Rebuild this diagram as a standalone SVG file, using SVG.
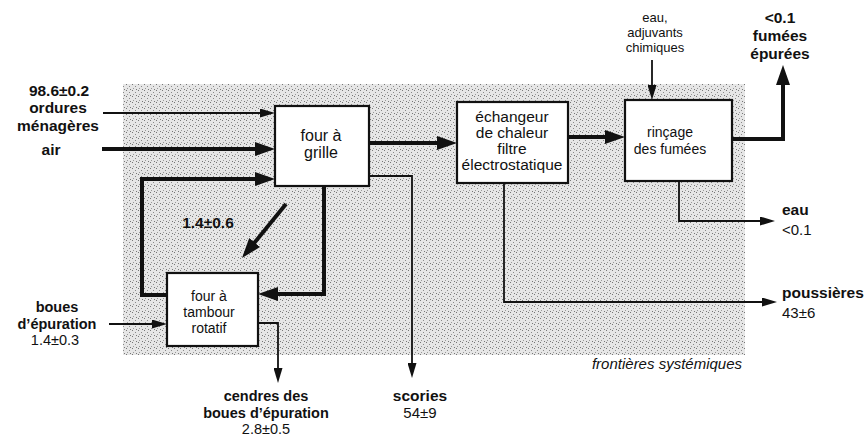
<svg xmlns="http://www.w3.org/2000/svg" width="865" height="437" viewBox="0 0 865 437">
<style>
text{font-family:"Liberation Sans",Arial,sans-serif;fill:#111}
.lb{font-size:15.5px;font-weight:bold}
.nm{font-size:15px}
.bx{font-size:15.5px;text-anchor:middle}
.sm{font-size:13px;text-anchor:middle}
.c{text-anchor:middle}
.tight{font-size:14.5px}
.box{fill:#fff;stroke:#111;stroke-width:2.2}
.thick{fill:none;stroke:#111;stroke-width:4}
.thin{fill:none;stroke:#111;stroke-width:1.8}
</style>
<defs>
<pattern id="stip" width="6" height="6" patternUnits="userSpaceOnUse">
<rect width="6" height="6" fill="#e6e6e6"/>
<rect x="0" y="0" width="1" height="1" fill="#777"/>
<rect x="3" y="2" width="1" height="1" fill="#888"/>
<rect x="1" y="4" width="1" height="1" fill="#999"/>
<rect x="4" y="5" width="1" height="1" fill="#777"/>
</pattern>
<marker id="ak" markerUnits="userSpaceOnUse" markerWidth="22" markerHeight="14" refX="1" refY="7" orient="auto">
<path d="M0,0 L20,7 L0,14 z" fill="#111"/>
</marker>
<marker id="an" markerUnits="userSpaceOnUse" markerWidth="16" markerHeight="9" refX="1" refY="4.5" orient="auto">
<path d="M0,0 L15,4.5 L0,9 z" fill="#111"/>
</marker>
</defs>

<rect id="boundary" x="123" y="84" width="622" height="271" fill="url(#stip)"/>
<text x="742" y="369" style="font-size:15px;font-style:italic;text-anchor:end">frontières systémiques</text>

<g id="connectors">
<path class="thin" d="M103,113 H261" marker-end="url(#an)"/>
<path class="thick" d="M102,149 H256" marker-end="url(#ak)"/>
<path class="thick" d="M167,295 H142 V179 H256" marker-end="url(#ak)"/>
<path class="thick" d="M286,204 L254,243.3" marker-end="url(#ak)"/>
<path class="thick" d="M324,187 V294 H277" marker-end="url(#ak)"/>
<path class="thin" d="M369,176 H412 V364" marker-end="url(#an)"/>
<path class="thin" d="M258,323 H278 V369" marker-end="url(#an)"/>
<path class="thin" d="M109,324 H153" marker-end="url(#an)"/>
<path class="thick" d="M369,143 H438" marker-end="url(#ak)"/>
<path class="thick" d="M568,137 H606" marker-end="url(#ak)"/>
<path class="thick" d="M732,139 H783 V84" marker-end="url(#ak)"/>
<path class="thin" d="M652,60 V86" marker-end="url(#an)"/>
<path class="thin" d="M679,181 V221 H761" marker-end="url(#an)"/>
<path class="thin" d="M504,183 V302 H763" marker-end="url(#an)"/>
<text class="lb c" x="208" y="228">1.4±0.6</text>
</g>

<g id="four-grille">
<rect class="box" x="275" y="106" width="94" height="80"/>
<text class="bx" x="321" y="141" style="font-size:16px">four à</text>
<text class="bx" x="321" y="158" style="font-size:16px">grille</text>
</g>

<g id="echangeur">
<rect class="box" x="457" y="102" width="111" height="81"/>
<text class="bx" x="512" y="122">échangeur</text>
<text class="bx" x="512" y="138">de chaleur</text>
<text class="bx" x="512" y="154">filtre</text>
<text class="bx" x="512" y="170">électrostatique</text>
</g>

<g id="rincage">
<rect class="box" x="625" y="100" width="107" height="81"/>
<text class="bx" x="670" y="137" style="font-size:14px">rinçage</text>
<text class="bx" x="670" y="154" style="font-size:14px">des fumées</text>
</g>

<g id="four-tambour">
<rect class="box" x="167" y="273" width="91" height="73"/>
<text class="bx" x="209" y="301" style="font-size:14px">four à</text>
<text class="bx" x="209" y="317" style="font-size:14px">tambour</text>
<text class="bx" x="209" y="333" style="font-size:14px">rotatif</text>
</g>

<g id="in-ordures">
<text class="lb c" x="59" y="96">98.6±0.2</text>
<text class="lb c" x="58" y="113">ordures</text>
<text class="lb c" x="58" y="131">ménagères</text>
</g>
<g id="in-air">
<text class="lb c" x="51" y="155">air</text>
</g>
<g id="in-boues">
<text class="lb c tight" x="57" y="312">boues</text>
<text class="lb c tight" x="57" y="328.5">d’épuration</text>
<text class="nm c tight" x="55" y="345">1.4±0.3</text>
</g>
<g id="out-cendres">
<text class="lb c tight" x="266" y="401">cendres des</text>
<text class="lb c tight" x="266" y="417.5">boues d’épuration</text>
<text class="nm c tight" x="266" y="434">2.8±0.5</text>
</g>
<g id="out-scories">
<text class="lb c" x="420" y="401">scories</text>
<text class="nm c" x="420" y="418">54±9</text>
</g>
<g id="in-eau">
<text class="sm" x="655" y="22">eau,</text>
<text class="sm" x="655" y="37">adjuvants</text>
<text class="sm" x="655" y="52">chimiques</text>
</g>
<g id="out-fumees">
<text class="lb c" x="780" y="23">&lt;0.1</text>
<text class="lb c" x="780" y="41">fumées</text>
<text class="lb c" x="780" y="59">épurées</text>
</g>
<g id="out-eau">
<text class="lb" x="782" y="215">eau</text>
<text class="nm" x="782" y="235">&lt;0.1</text>
</g>
<g id="out-poussieres">
<text class="lb" x="782" y="298">poussières</text>
<text class="nm" x="782" y="318">43±6</text>
</g>
</svg>
